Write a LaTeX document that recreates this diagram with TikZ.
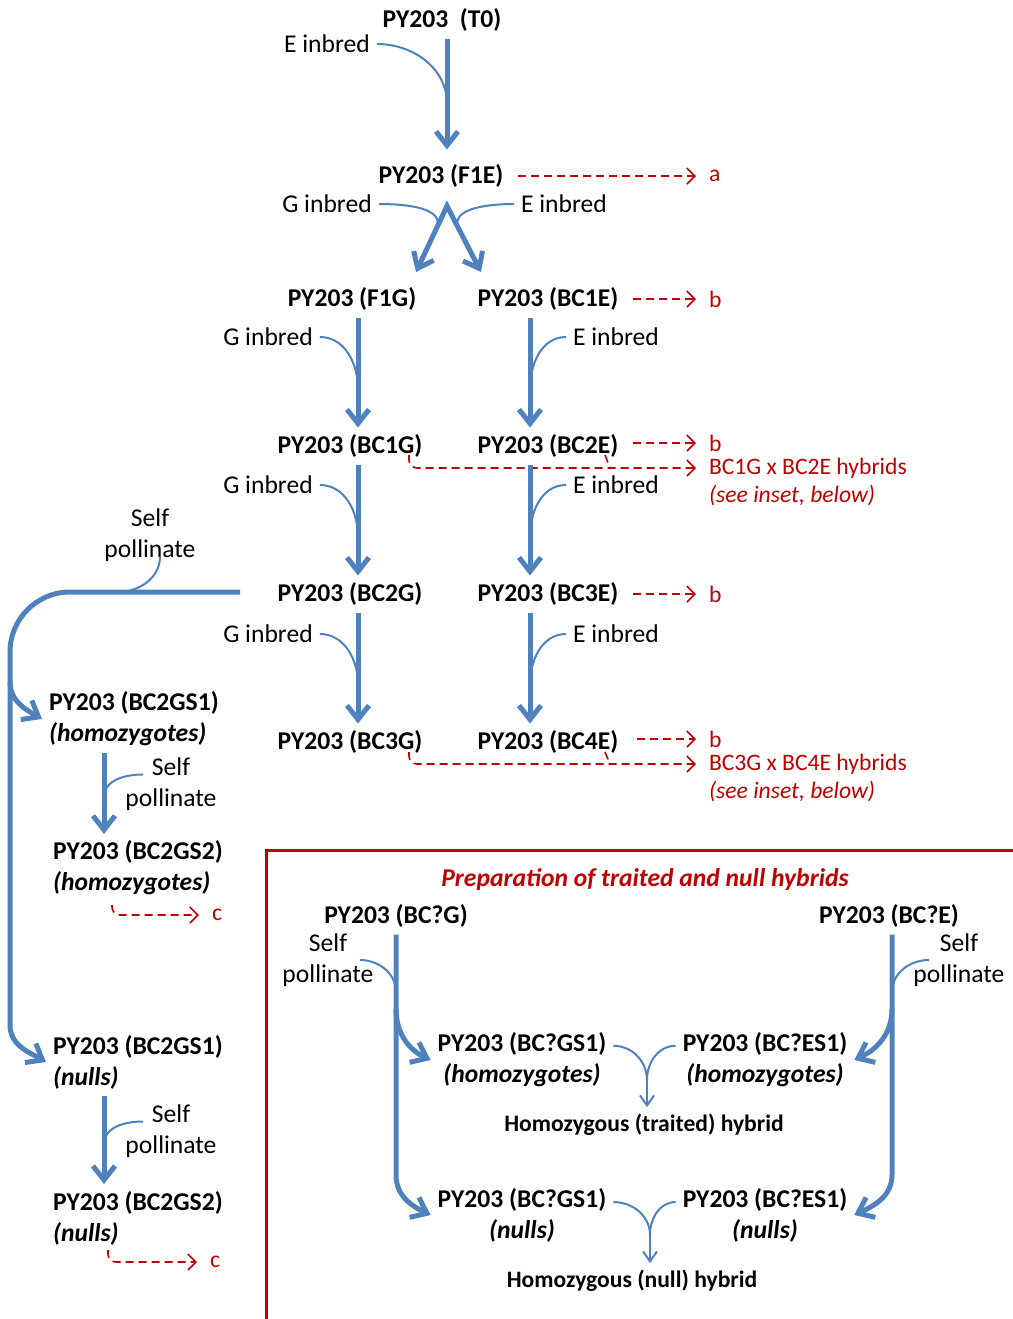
\documentclass[tikz,border=0pt]{standalone}
\usepackage{fontspec}
\setmainfont{Carlito}
\usepackage{xcolor}
\usepackage{tikz}
\usetikzlibrary{arrows.meta,positioning}

\definecolor{arrowblue}{RGB}{79,129,189}
\definecolor{darkred}{RGB}{192,0,0}

\begin{document}
\begin{tikzpicture}[
  x=0.5pt, y=0.5pt,
  plant/.style={font=\fontsize{12.8}{15.5}\selectfont\bfseries, align=center},
  plantl/.style={plant, align=left, anchor=west},
  lbl/.style={font=\fontsize{12.8}{15.5}\selectfont, align=center},
  redlbl/.style={font=\fontsize{11.8}{14.5}\selectfont, text=darkred, anchor=west, inner ysep=1pt},
  hyb/.style={font=\fontsize{11.8}{14}\selectfont\bfseries},
  bigarrow/.style={->, >={Straight Barb[length=7pt,width=11pt]}, line width=2.5pt, color=arrowblue},
  feedline/.style={line width=1pt, color=arrowblue},
  thinarrow/.style={-{Straight Barb[length=5pt,width=7pt]}, line width=1pt, color=arrowblue},
  reddash/.style={-{Straight Barb[length=4pt,width=8pt]}, line width=0.8pt, color=darkred, dash pattern=on 4pt off 2.5pt, shorten <=4pt, shorten >=3pt},
  frame/.style={line width=1.5pt, color=darkred}
]
\useasboundingbox (0,0) rectangle (1013,-1319);

\coordinate (tcol) at (447,0);
\coordinate (gcol) at (358,0);
\coordinate (ecol) at (530,0);
\coordinate (lcol) at (104,0);

% Tier 1: T0 to F1E
\node[plant] (t0) at (442,-20) {PY203\ \ (T0)};
\node[lbl] (ei0) at (327,-44) {E inbred};
\node[plant] (f1e) at (441,-176) {PY203 (F1E)};
\node[redlbl] (ra) at (702,-176) {a};

\draw[bigarrow, shorten >=4pt] (t0.south -| tcol) -- coordinate[pos=0.55] (j0) (f1e.north -| tcol);
\draw[feedline] (ei0.east) to[out=0, in=90] (j0);
\draw[reddash] (f1e) -- (ra);

% Fork into G and E lines
\coordinate (apex) at (447,-206);
\coordinate (tipg) at (416,-272);
\coordinate (tipe) at (481,-272);
\node[lbl] (gi0) at (327,-204) {G inbred};
\node[lbl] (ei1) at (564,-204) {E inbred};

\draw[bigarrow, <->] (tipg) -- coordinate[pos=0.65] (jf1) (apex) -- coordinate[pos=0.35] (jf2) (tipe);
\draw[feedline] (gi0.east) to[out=0, in=65] (jf1);
\draw[feedline] (ei1.west) to[out=180, in=115] (jf2);

% Tier 2: F1G / BC1E
\node[plant] (f1g) at (352,-299) {PY203 (F1G)};
\node[plant] (bc1e) at (548,-299) {PY203 (BC1E)};
\node[redlbl] (rb1) at (702,-299) {b};
\draw[reddash] (bc1e) -- (rb1);

% Tier 3: BC1G / BC2E
\node[plant] (bc1g) at (350,-446) {PY203 (BC1G)};
\node[plant] (bc2e) at (548,-446) {PY203 (BC2E)};
\node[redlbl] (rb2) at (702,-443) {b};
\node[lbl] (gi1) at (268,-337) {G inbred};
\node[lbl] (ei2) at (616,-337) {E inbred};

\draw[bigarrow] (f1g.south -| gcol) -- coordinate[pos=0.65] (jg1) (bc1g.north -| gcol);
\draw[feedline] (gi1.east) to[out=0, in=90] (jg1);
\draw[bigarrow] (bc1e.south -| ecol) -- coordinate[pos=0.65] (je1) (bc2e.north -| ecol);
\draw[feedline] (ei2.west) to[out=180, in=90] (je1);
\draw[reddash] (bc2e.east |- rb2) -- (rb2);

\node[redlbl] (hx1) at (702,-468) {BC1G x BC2E hybrids};
\node[redlbl, font=\fontsize{11.8}{14.5}\selectfont\itshape] (sx1) at (702,-495) {(see inset, below)};
\coordinate (t1a) at (409,-455);
\coordinate (t1b) at (605,-455);
\draw[reddash, shorten <=0pt, rounded corners=4pt] (t1a) |- (hx1);
\draw[reddash, -, shorten <=0pt] (t1b) to[out=-70, in=180] ++(12,-13);

% Tier 4: BC2G / BC3E
\node[plant] (bc2g) at (350,-594) {PY203 (BC2G)};
\node[plant] (bc3e) at (548,-594) {PY203 (BC3E)};
\node[redlbl] (rb3) at (702,-594) {b};
\node[lbl] (gi2) at (268,-485) {G inbred};
\node[lbl] (ei3) at (616,-485) {E inbred};

\draw[bigarrow] (bc1g.south -| gcol) -- coordinate[pos=0.65] (jg2) (bc2g.north -| gcol);
\draw[feedline] (gi2.east) to[out=0, in=90] (jg2);
\draw[bigarrow] (bc2e.south -| ecol) -- coordinate[pos=0.65] (je2) (bc3e.north -| ecol);
\draw[feedline] (ei3.west) to[out=180, in=90] (je2);
\draw[reddash] (bc3e) -- (rb3);

% Tier 5: BC3G / BC4E
\node[plant] (bc3g) at (350,-742) {PY203 (BC3G)};
\node[plant] (bc4e) at (548,-742) {PY203 (BC4E)};
\node[redlbl] (rb4) at (702,-739) {b};
\node[lbl] (gi3) at (268,-634) {G inbred};
\node[lbl] (ei4) at (616,-634) {E inbred};

\draw[bigarrow] (bc2g.south -| gcol) -- coordinate[pos=0.65] (jg3) (bc3g.north -| gcol);
\draw[feedline] (gi3.east) to[out=0, in=90] (jg3);
\draw[bigarrow] (bc3e.south -| ecol) -- coordinate[pos=0.65] (je3) (bc4e.north -| ecol);
\draw[feedline] (ei4.west) to[out=180, in=90] (je3);
\draw[reddash, shorten <=6pt] (bc4e.east |- rb4) -- (rb4);

\node[redlbl] (hx2) at (702,-764) {BC3G x BC4E hybrids};
\node[redlbl, font=\fontsize{11.8}{14.5}\selectfont\itshape] (sx2) at (702,-791) {(see inset, below)};
\coordinate (t2a) at (409,-752);
\coordinate (t2b) at (605,-752);
\draw[reddash, shorten <=0pt, rounded corners=4pt] (t2a) |- (hx2);
\draw[reddash, -, shorten <=0pt] (t2b) to[out=-70, in=180] ++(12,-12);

% Self pollinated BC2G lines
\node[plantl] (gs1h) at (42,-719) {PY203 (BC2GS1)\\\textit{(homozygotes)}};
\node[plantl] (gs2h) at (46,-868) {PY203 (BC2GS2)\\\textit{(homozygotes)}};
\node[plantl] (gs1n) at (46,-1062) {PY203 (BC2GS1)\\\textit{(nulls)}};
\node[plantl] (gs2n) at (46,-1218) {PY203 (BC2GS2)\\\textit{(nulls)}};
\node[lbl] (spl0) at (150,-535) {Self\\pollinate};
\node[lbl] (spl1) at (171,-784) {Self\\pollinate};
\node[lbl] (spl2) at (171,-1131) {Self\\pollinate};
\node[redlbl] (rc1) at (205,-915) {c};
\node[redlbl] (rc2) at (203,-1262) {c};

\coordinate (sp) at (240,-592);
\draw[bigarrow] (sp) -- coordinate[pos=0.72] (jsp) (70,-592) arc[start angle=90, end angle=180, radius=30pt]
  -- coordinate[pos=0.08] (jl) (10,-1025) to[out=-90, in=150] (gs1n.west);
\draw[feedline] ([xshift=5pt,yshift=6pt]spl0.south) to[out=-90, in=0] (jsp);
\draw[bigarrow] (jl) to[out=-90, in=150] (gs1h.west);

\draw[bigarrow] (gs1h.south -| lcol) -- coordinate[pos=0.55] (jl1) (gs2h.north -| lcol);
\draw[feedline] ([xshift=-14pt,yshift=-12pt]spl1.north) to[out=180, in=90] (jl1);
\draw[bigarrow] (gs1n.south -| lcol) -- coordinate[pos=0.55] (jl2) (gs2n.north -| lcol);
\draw[feedline] ([xshift=-14pt,yshift=-12pt]spl2.north) to[out=180, in=90] (jl2);

\coordinate (cs1) at (112,-905);
\coordinate (cs2) at (108,-1250);
\draw[reddash, shorten <=0pt, rounded corners=4pt] (cs1) |- (rc1);
\draw[reddash, shorten <=0pt, rounded corners=4pt] (cs2) |- (rc2);

% Inset: traited and null hybrids
\draw[frame] (266,-1319) -- (266,-850) -- (1013,-850);
\node[plant, text=darkred, font=\fontsize{12.8}{15.5}\selectfont\bfseries\itshape] (title) at (645,-880) {Preparation of traited and null hybrids};
\node[plant] (bcg) at (396,-916) {PY203 (BC?G)};
\node[plant] (bce) at (889,-916) {PY203 (BC?E)};
\node[lbl] (spi1) at (328,-960) {Self\\pollinate};
\node[lbl] (spi2) at (959,-960) {Self\\pollinate};
\node[plant] (igs1h) at (522,-1060) {PY203 (BC?GS1)\\\textit{(homozygotes)}};
\node[plant] (ies1h) at (765,-1060) {PY203 (BC?ES1)\\\textit{(homozygotes)}};
\node[hyb] (hyb1) at (644,-1125) {Homozygous (traited) hybrid};
\node[plant] (igs1n) at (522,-1215) {PY203 (BC?GS1)\\\textit{(nulls)}};
\node[plant] (ies1n) at (765,-1215) {PY203 (BC?ES1)\\\textit{(nulls)}};
\node[hyb] (hyb2) at (632,-1281) {Homozygous (null) hybrid};

\coordinate (ilcol) at (396,0);
\coordinate (ircol) at (892,0);
\coordinate (ilbot) at (396,-1175);
\coordinate (irbot) at (892,-1175);

\draw[bigarrow] (bcg.south -| ilcol) -- coordinate[pos=0.24] (ji1) coordinate[pos=0.31] (ji2) (ilbot) to[out=-90, in=155] (igs1n.west);
\draw[bigarrow] (ji2) to[out=-90, in=155] (igs1h.west);
\draw[feedline] ([xshift=16pt]spi1.center) to[out=0, in=90] (ji1);

\draw[bigarrow] (bce.south -| ircol) -- coordinate[pos=0.24] (ji3) coordinate[pos=0.31] (ji4) (irbot) to[out=-90, in=25] (ies1n.east);
\draw[bigarrow] (ji4) to[out=-90, in=25] (ies1h.east);
\draw[feedline] ([xshift=-15pt]spi2.center) to[out=180, in=90] (ji3);

\coordinate (m1) at (647,-1080);
\draw[feedline] ([yshift=-10pt]igs1h.north east) to[out=0, in=90] (m1);
\draw[feedline] ([yshift=-10pt]ies1h.north west) to[out=180, in=90] (m1);
\draw[thinarrow] (m1) -- (m1 |- hyb1.north);

\coordinate (m2) at (650,-1235);
\draw[feedline] ([yshift=-10.5pt]igs1n.north east) to[out=0, in=90] (m2);
\draw[feedline] ([yshift=-10.5pt]ies1n.north west) to[out=180, in=90] (m2);
\draw[thinarrow] (m2) -- (m2 |- hyb2.north);

\end{tikzpicture}
\end{document}
